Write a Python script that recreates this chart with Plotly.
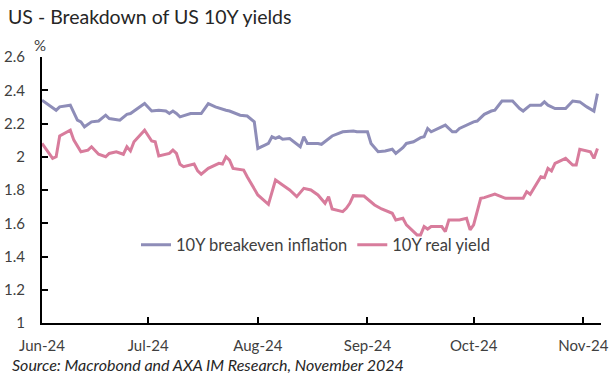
import plotly.graph_objects as go

# 10Y breakeven inflation (%)
be_dates = ["2024-06-01","2024-06-03","2024-06-05","2024-06-06","2024-06-09","2024-06-11","2024-06-12","2024-06-13",
            "2024-06-15","2024-06-17","2024-06-19","2024-06-20","2024-06-23","2024-06-25","2024-06-26","2024-06-30",
            "2024-07-02","2024-07-04","2024-07-06","2024-07-07","2024-07-08","2024-07-09","2024-07-10","2024-07-13",
            "2024-07-15","2024-07-16","2024-07-18","2024-07-20","2024-07-23","2024-07-24","2024-07-27","2024-07-29",
            "2024-07-31","2024-08-01","2024-08-03","2024-08-04","2024-08-05","2024-08-06","2024-08-07","2024-08-08",
            "2024-08-10","2024-08-13","2024-08-14","2024-08-15","2024-08-18","2024-08-19","2024-08-22","2024-08-25",
            "2024-08-28","2024-08-29","2024-09-01","2024-09-02","2024-09-04","2024-09-06","2024-09-08","2024-09-09",
            "2024-09-11","2024-09-12","2024-09-14","2024-09-16","2024-09-17","2024-09-18","2024-09-19","2024-09-23",
            "2024-09-25","2024-09-26","2024-09-27","2024-09-29","2024-10-01","2024-10-02","2024-10-04","2024-10-06",
            "2024-10-07","2024-10-09","2024-10-12","2024-10-14","2024-10-15","2024-10-17","2024-10-20","2024-10-21",
            "2024-10-22","2024-10-24","2024-10-27","2024-10-29","2024-10-31","2024-11-02","2024-11-04","2024-11-05"]
be_values = [2.34,2.31,2.28,2.30,2.31,2.22,2.21,2.18,
             2.21,2.215,2.25,2.23,2.22,2.255,2.26,2.32,
             2.275,2.28,2.275,2.26,2.275,2.26,2.24,2.26,
             2.26,2.26,2.32,2.30,2.28,2.275,2.25,2.245,
             2.21,2.05,2.07,2.08,2.12,2.11,2.12,2.105,
             2.11,2.06,2.12,2.08,2.08,2.075,2.125,2.15,
             2.155,2.15,2.15,2.08,2.03,2.035,2.045,2.02,
             2.055,2.08,2.09,2.115,2.12,2.17,2.15,2.19,
             2.15,2.15,2.17,2.19,2.21,2.215,2.255,2.275,
             2.28,2.335,2.335,2.29,2.275,2.31,2.31,2.33,
             2.31,2.29,2.29,2.335,2.33,2.30,2.275,2.38]

# 10Y real yield (%)
ry_dates = ["2024-06-01","2024-06-03","2024-06-04","2024-06-05","2024-06-06","2024-06-09","2024-06-10","2024-06-12",
            "2024-06-14","2024-06-15","2024-06-17","2024-06-19","2024-06-20","2024-06-22","2024-06-24","2024-06-25",
            "2024-06-26","2024-06-27","2024-06-30","2024-07-02","2024-07-03","2024-07-04","2024-07-07","2024-07-08",
            "2024-07-09","2024-07-10","2024-07-11","2024-07-14","2024-07-15","2024-07-16","2024-07-18","2024-07-21",
            "2024-07-22","2024-07-23","2024-07-24","2024-07-25","2024-07-28","2024-07-29","2024-08-01","2024-08-04",
            "2024-08-06","2024-08-08","2024-08-10","2024-08-12","2024-08-14","2024-08-16","2024-08-18","2024-08-20",
            "2024-08-21","2024-08-22","2024-08-25","2024-08-26","2024-08-27","2024-08-28","2024-08-31","2024-09-03",
            "2024-09-05","2024-09-08","2024-09-09","2024-09-11","2024-09-12","2024-09-15","2024-09-16","2024-09-17",
            "2024-09-18","2024-09-19","2024-09-22","2024-09-23","2024-09-24","2024-09-27","2024-09-29","2024-09-30",
            "2024-10-01","2024-10-03","2024-10-04","2024-10-07","2024-10-10","2024-10-12","2024-10-15","2024-10-16",
            "2024-10-17","2024-10-20","2024-10-21","2024-10-22","2024-10-23","2024-10-24","2024-10-27","2024-10-29",
            "2024-10-30","2024-10-31","2024-11-02","2024-11-03","2024-11-04","2024-11-05"]
ry_values = [2.08,2.02,1.99,2.00,2.125,2.16,2.10,2.03,
             2.04,2.06,2.015,2.00,2.02,2.03,2.015,2.06,
             2.035,2.09,2.16,2.095,2.09,2.005,2.02,2.04,
             2.02,1.955,1.94,1.956,1.915,1.895,1.93,1.96,
             1.956,2.00,1.98,1.93,1.92,1.88,1.77,1.714,
             1.86,1.83,1.80,1.76,1.81,1.80,1.77,1.72,
             1.76,1.686,1.67,1.69,1.72,1.766,1.764,1.71,
             1.686,1.66,1.62,1.63,1.59,1.53,1.53,1.58,
             1.565,1.58,1.58,1.55,1.62,1.62,1.63,1.56,
             1.59,1.75,1.754,1.776,1.75,1.75,1.75,1.79,
             1.774,1.88,1.874,1.93,1.914,1.96,1.99,1.95,
             1.95,2.045,2.037,2.03,1.99,2.05]

month_ticks = ["2024-06-01","2024-07-01","2024-08-01","2024-09-01","2024-10-01","2024-11-01"]
month_labels = ["Jun-24","Jul-24","Aug-24","Sep-24","Oct-24","Nov-24"]
y_ticks = [1, 1.2, 1.4, 1.6, 1.8, 2, 2.2, 2.4, 2.6]
y_labels = ["1", "1.2", "1.4", "1.6", "1.8", "2", "2.2", "2.4", "2.6"]

FONT = "Lato"
TXT = "#404040"

L, R, T, B = 42, 14, 57, 55
W, H = 615, 378
pw, ph = W - L - R, H - T - B

fig = go.Figure()
fig.add_trace(go.Scatter(x=be_dates, y=be_values, mode="lines", name="10Y breakeven inflation",
                         line=dict(color="#8E8DB8", width=3)))
fig.add_trace(go.Scatter(x=ry_dates, y=ry_values, mode="lines", name="10Y real yield",
                         line=dict(color="#D87C9C", width=3)))

fig.update_layout(
    width=W, height=H,
    margin=dict(l=L, r=R, t=T, b=B, autoexpand=False),
    paper_bgcolor="white", plot_bgcolor="white",
    font=dict(family=FONT, size=15, color=TXT),
    title=dict(text="US - Breakdown of US 10Y yields", x=8/W, xref="container", xanchor="left",
               y=1-17/H, yref="container", yanchor="middle",
               font=dict(family=FONT, size=19.5, color="#262626")),
    showlegend=True,
    legend=dict(orientation="h", x=(136 - L)/pw, xanchor="left", y=(323 - 245)/ph, yanchor="middle",
                bgcolor="rgba(0,0,0,0)", font=dict(family=FONT, size=16.5, color=TXT),
                itemwidth=30, tracegroupgap=0),
    xaxis=dict(type="date", range=["2024-06-01", "2024-11-06"], automargin=False,
               tickvals=month_ticks, ticktext=month_labels,
               showline=True, linecolor="black", linewidth=2,
               ticks="inside", ticklen=6, tickcolor="black", tickwidth=1.5,
               showgrid=False, zeroline=False, ticklabelstandoff=8,
               tickfont=dict(family=FONT, size=15, color=TXT)),
    yaxis=dict(range=[1, 2.6], tickvals=y_ticks, ticktext=y_labels, automargin=False,
               showline=True, linecolor="black", linewidth=2,
               ticks="inside", ticklen=6, tickcolor="black", tickwidth=1.5,
               showgrid=False, zeroline=False, ticklabelstandoff=12,
               tickfont=dict(family=FONT, size=15, color=TXT)),
    annotations=[
        dict(text="%", x=(40 - L)/pw, y=(323 - 45)/ph, xref="paper", yref="paper", showarrow=False,
             xanchor="center", yanchor="middle", font=dict(family=FONT, size=15, color=TXT)),
        dict(text="<i>Source: Macrobond and AXA IM Research, November 2024</i>",
             x=(10 - L)/pw, y=(323 - 364)/ph, xref="paper", yref="paper", showarrow=False,
             xanchor="left", yanchor="middle", font=dict(family=FONT, size=16, color="#262626")),
    ],
)

fig.write_html("out.html", config={"displayModeBar": False},
               post_script="document.body.style.margin='0';document.body.style.overflow='hidden';")
